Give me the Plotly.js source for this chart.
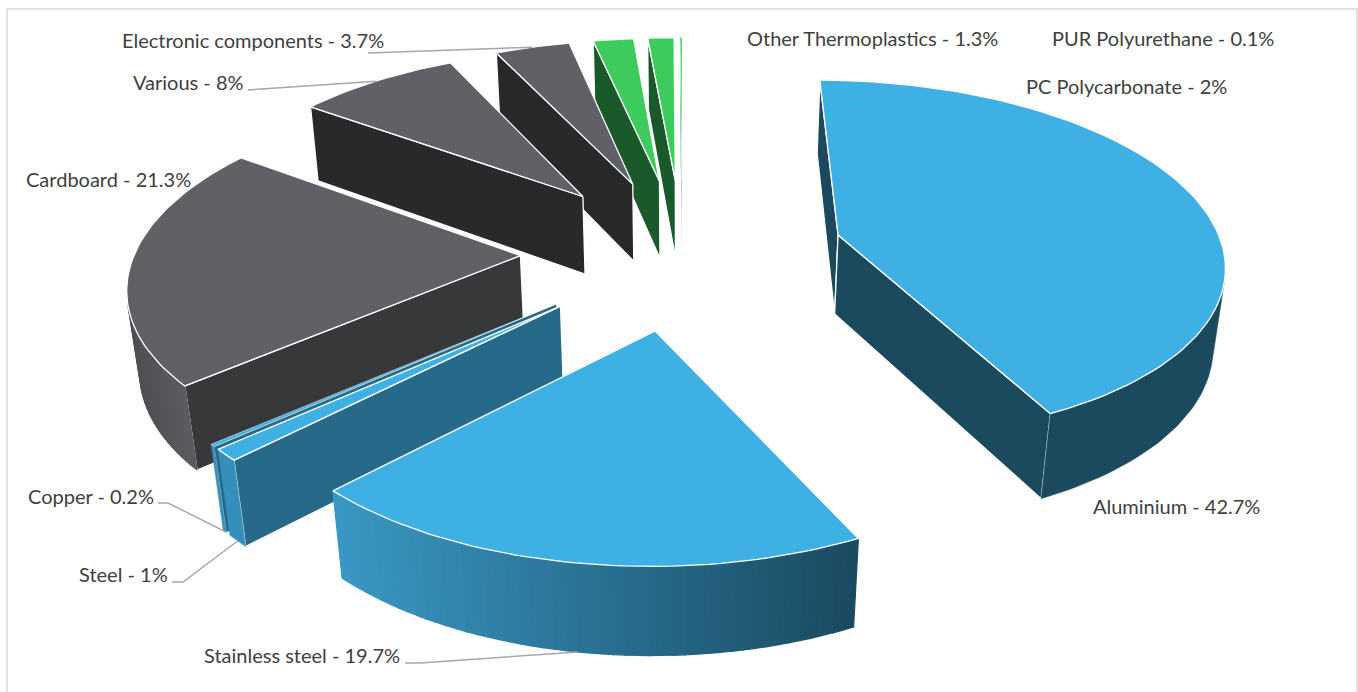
<!DOCTYPE html>
<html>
<head>
<meta charset="utf-8">
<script src="https://cdn.plot.ly/plotly-3.0.1.min.js"></script>
<style>html,body{margin:0;padding:0;background:#fff;overflow:hidden}#chart{width:1358px;height:692px}</style>
</head>
<body>
<div id="chart"></div>
<script>
// ---- chart data, clockwise from 12 o'clock ----
const materials = ["Aluminium","Stainless steel","Steel","Copper","Cardboard","Various","Electronic components","PC Polycarbonate","Other Thermoplastics","PUR Polyurethane"];
const shares = [42.7,19.7,1,0.2,21.3,8,3.7,2,1.3,0.1];

// ---- colours per slice ----
const topColors   = ["#3FB0E4","#3FB0E4","#3FB0E4","#3FB0E4","#606166","#606166","#606166","#3DCB5B","#3DCB5B","#3DCB5B"];
const sideColors  = ["#1B4A5E","#1B4A5E","#276988","#276988","#37383A","#28292B","#28292B","#19592A","#19592A","#19592A"];
const outerFrom   = ["#1B4A5E","#3A98C4","#348FBB","#348FBB","#4E4F52","#4E4F52","#4E4F52","#19592A","#19592A","#19592A"];
const outerTo     = ["#1B4A5E","#1A4A60","#348FBB","#348FBB","#5B5C60","#4E4F52","#4E4F52","#19592A","#19592A","#19592A"];

// ---- labels (placement only) ----
const labelX      = [1093,204,79,28,26,133,122,1026,747,1052];
const labelY      = [506,655,574,496,179,82,40,86,38,38];
const leaderStart = {
  "Stainless steel":[[405,663],[420,663]],
  "Steel":[[172,582],[183,582]],
  "Copper":[[158,503],[168,503]],
  "Various":[[248,90]],
  "Electronic components":[[368,53]]
};

// ---- camera fitted to the reference ----
const cam = {cx:682.5, cy:252, ax:385.5, by:180, py:0.1345, drop:81.5, dropW:0.023};
const explode = 0.4197;

function project(X,Y,t){
  const w = 1 + cam.py*Y + cam.dropW*t;
  return [cam.cx + cam.ax*X/w, cam.cy + (-cam.by*Y + cam.drop*t)/w];
}
function hex(c){return [1,3,5].map(i=>parseInt(c.substr(i,2),16));}
function mix(a,b,f){const A=hex(a),B=hex(b);return "rgb("+A.map((v,i)=>Math.round(v+(B[i]-v)*f)).join(",")+")";}
function area(p){let s=0;for(let i=0;i<p.length;i++){const q=p[(i+1)%p.length];s+=p[i][0]*q[1]-q[0]*p[i][1];}return s;}

const traces=[];
function poly(pts,fill,lineColor,lineWidth){
  const xs=pts.map(p=>p[0]),ys=pts.map(p=>p[1]);
  xs.push(xs[0]);ys.push(ys[0]);
  traces.push({type:"scatter",mode:"lines",x:xs,y:ys,fill:"toself",fillcolor:fill,
    line:{color:lineColor,width:lineWidth},hoverinfo:"skip",showlegend:false});
}

// build slices
const total = shares.reduce((a,b)=>a+b,0);
let cum=0;
const slices = shares.map((v,i)=>{
  const a0=cum/total*2*Math.PI; cum+=v; const a1=cum/total*2*Math.PI;
  const m=(a0+a1)/2;
  return {i,v,a0,a1,m,ex:explode*Math.sin(m),ey:explode*Math.cos(m)};
});
function arcPoint(s,a,t){return project(s.ex+Math.sin(a),s.ey+Math.cos(a),t);}
function apex(s,t){return project(s.ex,s.ey,t);}

// back to front
[...slices].sort((p,q)=>q.ey-p.ey).forEach(s=>{
  const n=Math.max(2,Math.ceil((s.a1-s.a0)/(1.5*Math.PI/180)));
  const ang=[];for(let k=0;k<=n;k++)ang.push(s.a0+(s.a1-s.a0)*k/n);
  const edgeW=s.v<0.5?0.5:1.3;
  // radial walls
  const startWall=[apex(s,0),arcPoint(s,s.a0,0),arcPoint(s,s.a0,1),apex(s,1)];
  const endWall=[apex(s,0),arcPoint(s,s.a1,0),arcPoint(s,s.a1,1),apex(s,1)];
  if(area(startWall)<0) poly(startWall,sideColors[s.i],"#FFFFFF",edgeW);
  if(area(endWall)>0) poly(endWall,sideColors[s.i],"#FFFFFF",edgeW);
  // outer wall
  const vis=[];
  for(let k=0;k<n;k++){
    const q=[arcPoint(s,ang[k],0),arcPoint(s,ang[k+1],0),arcPoint(s,ang[k+1],1),arcPoint(s,ang[k],1)];
    if(area(q)<0) vis.push(k);
  }
  if(vis.length){
    const flat=outerFrom[s.i]===outerTo[s.i];
    const step=flat?vis.length:1;
    const xAt=a=>arcPoint(s,a,0)[0];
    const xA=xAt(ang[vis[0]]),xB=xAt(ang[vis[vis.length-1]+1]);
    const xL=Math.min(xA,xB),xR=Math.max(xA,xB);
    for(let j=0;j<vis.length;j+=step){
      const run=vis.slice(j,j+step);
      const top=[],bot=[];
      run.forEach(k=>{top.push(arcPoint(s,ang[k],0));bot.push(arcPoint(s,ang[k],1));});
      const last=run[run.length-1]+1;
      top.push(arcPoint(s,ang[last],0));bot.push(arcPoint(s,ang[last],1));
      const midX=(top[0][0]+top[top.length-1][0])/2;
      const color=flat?outerFrom[s.i]:mix(outerFrom[s.i],outerTo[s.i],xR>xL?(midX-xL)/(xR-xL):0);
      poly(top.concat(bot.reverse()),color,color,flat?0.5:1.2);
    }
  }
  // top face
  poly([apex(s,0)].concat(ang.map(a=>arcPoint(s,a,0))),topColors[s.i],"#FFFFFF",edgeW);
});

// leader lines end on the middle of their slice's arc
const leaderColor="#A6A6A6";
Object.keys(leaderStart).forEach(name=>{
  const s=slices[materials.indexOf(name)];
  const end=arcPoint(s,s.m,s.ey>0?0:1);
  const pts=leaderStart[name].concat([end]);
  traces.push({type:"scatter",mode:"lines",x:pts.map(p=>p[0]),y:pts.map(p=>p[1]),
    line:{color:leaderColor,width:1.5},hoverinfo:"skip",showlegend:false});
});

const annotations=materials.map((m,i)=>({
  x:labelX[i],y:labelY[i],xref:"x",yref:"y",xanchor:"left",yanchor:"middle",showarrow:false,
  text:m+" - "+shares[i]+"%",font:{family:"Lato, 'Open Sans', sans-serif",size:20,color:"#404040"},
  align:"left",xshift:-2,yshift:0
}));

const layout={
  width:1358,height:692,margin:{l:0,r:0,t:0,b:0},paper_bgcolor:"#fff",plot_bgcolor:"#fff",
  xaxis:{range:[0,1358],visible:false,fixedrange:true},
  yaxis:{range:[692,0],visible:false,fixedrange:true},
  showlegend:false,annotations,
  shapes:[{type:"rect",xref:"x",yref:"y",x0:7,y0:9,x1:1357,y1:700,line:{color:"#D9D9D9",width:1.5},layer:"below"}]
};
Plotly.newPlot("chart",traces,layout,{staticPlot:true,displayModeBar:false});
</script>
</body>
</html>
